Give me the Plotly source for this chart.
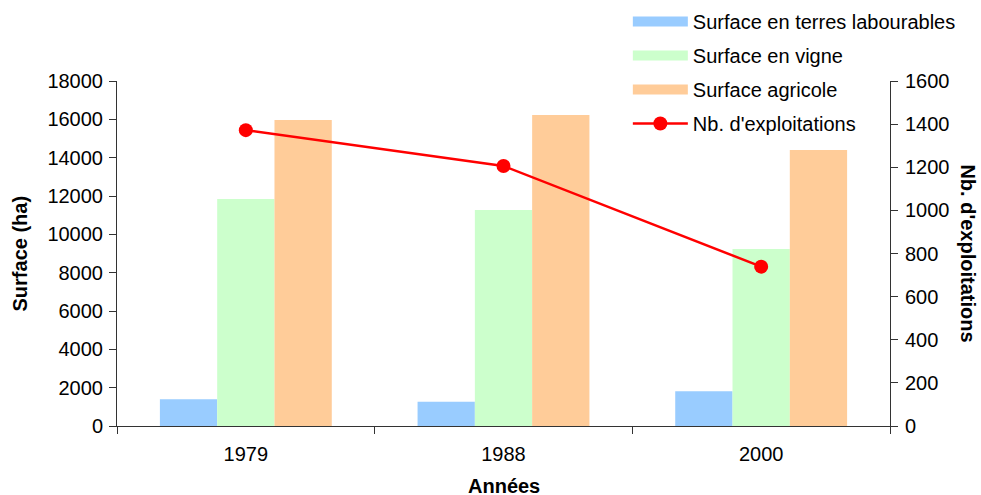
import plotly.graph_objects as go

years = ["1979", "1988", "2000"]
terres_labourables = [1400, 1260, 1810]
vigne = [11850, 11270, 9240]
agricole = [15960, 16230, 14400]
exploitations = [1372, 1206, 739]

names = ["Surface en terres labourables", "Surface en vigne", "Surface agricole"]
colors = ["#99CCFF", "#CCFFCC", "#FFCC99"]
series = [terres_labourables, vigne, agricole]

FONT = "Liberation Sans, Arial, sans-serif"
AX = "#333333"

fig = go.Figure()
for i, (n, c, s) in enumerate(zip(names, colors, series)):
    fig.add_trace(go.Bar(x=years, y=s, name=n, marker=dict(color=c, line=dict(width=0)),
                         showlegend=False, yaxis="y"))
    # legend proxy (wide rectangle symbol)
    fig.add_trace(go.Scatter(x=[None], y=[None], mode="lines", name=n,
                             line=dict(color=c, width=14), legendgroup=f"g{i}",
                             showlegend=True, hoverinfo="skip"))

fig.add_trace(go.Scatter(x=years, y=exploitations, name="Nb. d'exploitations",
                         mode="lines+markers", yaxis="y2", legendgroup="g3",
                         line=dict(color="#FF0000", width=2.5),
                         marker=dict(color="#FF0000", size=14)))

fig.update_layout(
    width=981, height=495, autosize=False,
    margin=dict(l=117, r=91, t=81, b=69, autoexpand=False),
    paper_bgcolor="white", plot_bgcolor="white",
    font=dict(family=FONT, size=20, color="black"),
    barmode="group", bargap=0.333, bargroupgap=0,
    showlegend=True,
    legend=dict(xref="container", yref="container", x=0.640, y=0.996,
                xanchor="left", yanchor="top",
                traceorder="grouped", tracegroupgap=5, itemwidth=55,
                bgcolor="rgba(0,0,0,0)", font=dict(size=20)),
    xaxis=dict(type="category", showline=True, linecolor=AX, linewidth=1,
               ticks="outside", tickson="boundaries", ticklen=7, tickcolor=AX,
               ticklabelstandoff=10, showgrid=False, zeroline=False),
    yaxis=dict(range=[0, 18000], dtick=2000, tickformat="d", showline=True, linecolor=AX,
               linewidth=1, ticks="outside", ticklen=7, tickcolor=AX, ticklabelstandoff=2,
               showgrid=False, zeroline=False),
    yaxis2=dict(range=[0, 1600], dtick=200, tickformat="d", overlaying="y", side="right",
                showline=True, linecolor=AX, linewidth=1, ticks="outside", ticklen=7,
                tickcolor=AX, ticklabelstandoff=3, showgrid=False, zeroline=False),
    annotations=[
        dict(text="<b>Surface (ha)</b>", xref="paper", yref="paper", x=-0.1255, y=0.5,
             textangle=-90, showarrow=False, xanchor="center", yanchor="middle",
             font=dict(size=20)),
        dict(text="<b>Nb. d'exploitations</b>", xref="paper", yref="paper", x=1.101, y=0.5,
             textangle=90, showarrow=False, xanchor="center", yanchor="middle",
             font=dict(size=20)),
        dict(text="<b>Années</b>", xref="paper", yref="paper", x=0.5, y=-0.175,
             showarrow=False, xanchor="center", yanchor="middle", font=dict(size=20)),
    ],
)

fig.write_html("out.html", config={"displayModeBar": False},
               post_script="document.body.style.margin='0px';document.body.style.padding='0px';")
